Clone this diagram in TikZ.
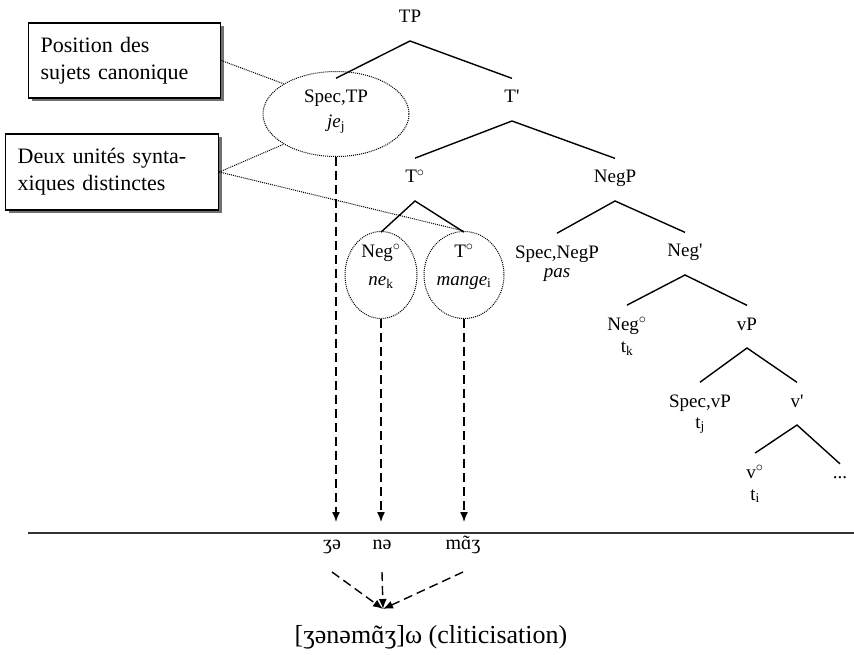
\documentclass[tikz,border=0pt]{standalone}
\usepackage{fontspec}
\setmainfont{Liberation Serif}
\usetikzlibrary{shapes.geometric,shadows,arrows.meta}
\newcommand{\nasal}{\ooalign{ɑ\cr\hidewidth ˜\hidewidth\cr}}
\tikzset{
>={Latex[length=10pt,width=8pt]},
  cat/.style={
    font=\fontsize{19}{22}\selectfont,
    anchor=base,
    align=center,
    inner sep=0pt},
  note/.style={
    draw, line width=1.3pt,
    fill=white,
    align=left,
    text width=168pt,
    inner xsep=12pt,
    minimum height=75pt,
    anchor=west,
    font=\fontsize{22}{27}\selectfont,
    drop shadow={shadow xshift=3pt, shadow yshift=-3pt, fill=black!70, opacity=0.8}},
  ring/.style={ellipse, draw, line width=1pt, dash pattern=on 1pt off 1pt, inner sep=0pt},
  branch/.style={line width=1.4pt},
  link/.style={line width=1pt, dash pattern=on 1pt off 1pt},
  move/.style={->, line width=1.4pt, dash pattern=on 9pt off 5pt},
  sound/.style={font=\fontsize{20}{24}\selectfont, anchor=base, inner sep=0pt},
}

\begin{document}
\begin{tikzpicture}[x=1pt,y=-1pt]
\useasboundingbox (0,0) rectangle (854,655);

  %% Notes
  \node[note] (subj) at (28,60.5) {Position des\\sujets canonique};
  \node[note, text width=189pt, minimum height=76pt] (unit) at (5,172) {Deux unités synta-\\xiques distinctes};

  %% Tree (two-line labels sit on the baseline of their last line)
  \node[cat] (TP) at (410,23) {TP};
  \node[cat] (specTP) at (336,128) {Spec,TP\\[3pt]\textit{je}\textsubscript{j}};
  \node[cat] (Tbar) at (512,103) {T\textquotesingle};
  \node[cat] (Tzero) at (415,183) {T$^\circ$};
  \node[cat] (NegP) at (615,183) {NegP};
  \node[cat] (negL) at (381,285) {Neg$^\circ$\\[6pt]\textit{ne}\textsubscript{k}};
  \node[cat] (tL) at (464,285) {T$^\circ$\\[6pt]\textit{mange}\textsubscript{i}};
  \node[cat] (specNeg) at (557,277) {Spec,NegP\\[-3pt]\textit{pas}};
  \node[cat] (Negbar) at (685,257) {Neg\textquotesingle};
  \node[cat] (Negzero) at (627,352) {Neg$^\circ$\\t\textsubscript{k}};
  \node[cat] (vP) at (747,330) {vP};
  \node[cat] (specv) at (700,428) {Spec,vP\\[-1pt]t\textsubscript{j}};
  \node[cat] (vbar) at (797,407) {v\textquotesingle};
  \node[cat] (vzero) at (755,500) {v$^\circ$\\t\textsubscript{i}};
  \node[cat] (rest) at (840,478) {...};

  \foreach \p/\l/\r in {TP/specTP/Tbar, Tbar/Tzero/NegP, Tzero/negL/tL,
                        NegP/specNeg/Negbar, Negbar/Negzero/vP,
                        vP/specv/vbar, vbar/vzero/rest}{
    \draw[branch] ([yshift=12pt]\l.north) -- ([yshift=-18pt]\p.base) -- ([yshift=12pt]\r.north);
  }

  %% Rings
  \node[ring, minimum width=146pt, minimum height=85pt] (specRing) at (336,114) {};
  \node[ring, minimum width=72pt, minimum height=87pt] (negRing) at (381,275) {};
  \node[ring, minimum width=80pt, minimum height=87pt] (tRing) at (464,275) {};

  \draw[link] (subj.east) -- (specRing.150);
  \draw[link] (unit.east) -- (specRing.210);
  \draw[link] (unit.east) -- (tRing.north);

  %% Phonology
  \coordinate (lineL) at (28,533);
  \coordinate (lineR) at (854,533);
  \coordinate (tips) at (0,522);
  \draw[line width=2pt, black!80] (lineL) -- (lineR);

  \foreach \n in {specRing, negRing, tRing}{
    \draw[move] (\n.south) -- (\n.south |- tips);
  }

  \node[sound] (ze) at (332,549) {ʒə};
  \node[sound] (ne) at (382,549) {nə};
  \node[sound] (mage) at (463,549) {m\nasal ʒ};
  \coordinate (merge) at (383,609);
  \foreach \n in {ze, ne, mage}{
    \draw[move] ([yshift=-23pt]\n.base) -- (merge);
  }
  \node[sound, font=\fontsize{26}{30}\selectfont] (word) at (431,643) {[ʒənəm\nasal ʒ]ω (cliticisation)};

\end{tikzpicture}
\end{document}
